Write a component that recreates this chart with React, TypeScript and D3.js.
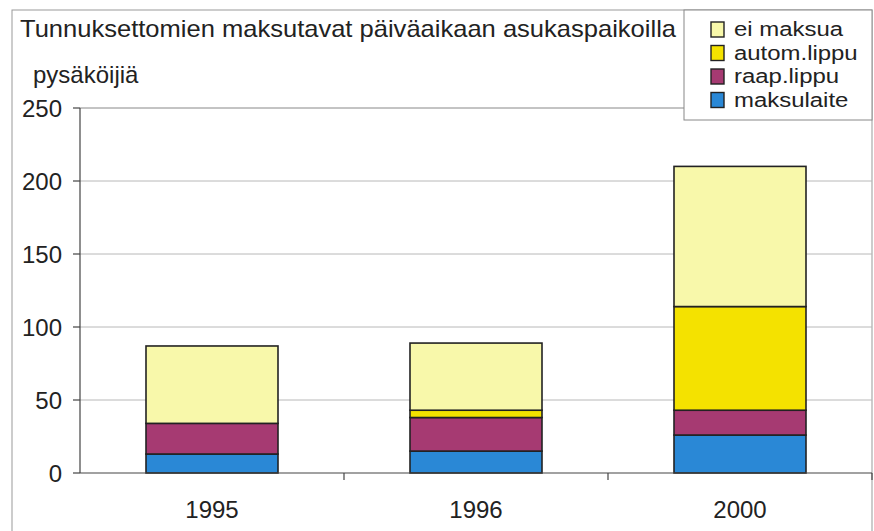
import React from "react";
import * as d3 from "d3";

const years = ["1995", "1996", "2000"];
const seriesNames = ["maksulaite", "raap.lippu", "autom.lippu", "ei maksua"];
const maksulaite = [13, 15, 26];
const raapLippu = [21, 23, 17];
const automLippu = [0, 5, 71];
const eiMaksua = [53, 46, 96];
const yTicks = [0, 50, 100, 150, 200, 250];
const colors = ["#2a88d6", "#a63a72", "#f4e200", "#f8f8aa"];
const legendOrder = ["ei maksua", "autom.lippu", "raap.lippu", "maksulaite"];

const W = 874;
const H = 531;
const FONT = "'Liberation Sans', Arial, sans-serif";

export default function App() {
  const rows = years.map((y, i) => ({
    year: y,
    maksulaite: maksulaite[i],
    "raap.lippu": raapLippu[i],
    "autom.lippu": automLippu[i],
    "ei maksua": eiMaksua[i],
  }));
  const stacked = d3.stack<any>().keys(seriesNames)(rows);
  const plotL = 80, plotR = 872, plotT = 108, plotB = 473;
  const x = d3.scaleBand().domain(years).range([plotL, plotR]).paddingInner(0.5).paddingOuter(0.25);
  const y = d3.scaleLinear().domain([0, 250]).range([plotB, plotT]);
  const step = x.step();
  const legendX = 684, legendY = 10, legendW = 188, legendH = 110;

  return (
    <svg width={W} height={H} style={{ position: "absolute", left: 0, top: 0, background: "#fff" }}
      fontFamily={FONT}>
      <rect x={0} y={0} width={W} height={H} fill="#fff" />
      <rect x={12} y={10} width={860} height={560} fill="none" stroke="#999" strokeWidth={1} />
      {/* gridlines */}
      {yTicks.filter(t => t > 0 && t < 250).map(t => (
        <line key={t} x1={plotL} x2={plotR} y1={y(t)} y2={y(t)} stroke="#b8b8b8" strokeWidth={1} />
      ))}
      <line x1={plotL} x2={plotR} y1={y(250)} y2={y(250)} stroke="#888" strokeWidth={1} />
      {/* bars */}
      {stacked.map((s, si) => (
        <g key={s.key} fill={colors[si]}>
          {s.map((d, i) => (d[1] - d[0] > 0 ?
            <rect key={i} x={x(years[i])} width={x.bandwidth()} y={y(d[1])} height={y(d[0]) - y(d[1])}
              stroke="#222" strokeWidth={1.6} /> : null))}
        </g>
      ))}
      {/* axes */}
      <line x1={plotL} x2={plotL} y1={plotT} y2={plotB} stroke="#444" strokeWidth={1.2} />
      <line x1={plotL} x2={plotR} y1={plotB} y2={plotB} stroke="#444" strokeWidth={1.2} />
      {yTicks.map(t => (
        <g key={t}>
          <line x1={plotL - 7} x2={plotL} y1={y(t)} y2={y(t)} stroke="#444" strokeWidth={1.2} />
          <text x={62} y={y(t) + 8.5} textAnchor="end" fontSize={24} fill="#222">{t}</text>
        </g>
      ))}
      {[1, 2, 3].map(k => (
        <line key={k} x1={plotL + k * step} x2={plotL + k * step} y1={plotB} y2={plotB + 7} stroke="#444" strokeWidth={1.2} />
      ))}
      {years.map(yr => (
        <text key={yr} x={(x(yr) as number) + x.bandwidth() / 2} y={518} textAnchor="middle" fontSize={24} fill="#222">{yr}</text>
      ))}
      {/* titles */}
      <text x={20} y={37} fontSize={24} fill="#222" textLength={656} lengthAdjust="spacingAndGlyphs">Tunnuksettomien maksutavat päiväaikaan asukaspaikoilla</text>
      <text x={33} y={83} fontSize={24} fill="#222">pysäköijiä</text>
      {/* legend */}
      <rect x={legendX} y={legendY} width={legendW} height={legendH} fill="#fff" stroke="#888" strokeWidth={1} />
      {legendOrder.map((name, i) => {
        const ci = seriesNames.indexOf(name);
        const base = 36 + i * 23.5;
        return (
          <g key={name}>
            <rect x={711} y={base - 14} width={13} height={15} fill={colors[ci]} stroke="#222" strokeWidth={1.4} />
            <text transform={`translate(734, ${base}) scale(1.14, 1)`} fontSize={21} fill="#222">{name}</text>
          </g>
        );
      })}
    </svg>
  );
}
